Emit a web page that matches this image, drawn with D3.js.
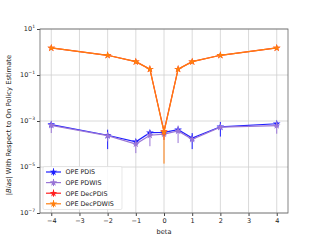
<!DOCTYPE html>
<html lang="en">
<head>
    <meta charset="UTF-8">
    <title>bias vs beta</title>
    <style>
        body{ margin:0; background:#fff; }
        svg text{ font-family:"DejaVu Sans", sans-serif; }
    </style>
</head>
<body>
<div id="main"></div>
<script src="https://d3js.org/d3.v7.min.js"></script>
<script>
    // beta values on the x axis
    const betas=[-4,-2,-1,-0.5,0,0.5,1,2,4]
    const xTicks=[-4,-3,-2,-1,0,1,2,3,4]
    const yTicks=[1e1,1e-1,1e-3,1e-5,1e-7]
    const yTickExp=['1','\u22121','\u22123','\u22125','\u22127']

    // |bias| means and symmetric errors per series
    const pdis    =[7.0e-4,2.4e-4,1.25e-4,3.1e-4,3.2e-4,4.2e-4,1.8e-4,5.6e-4,7.6e-4]
    const pdisErr =[2.0e-4,1.8e-4,3.0e-5,8.0e-5,6.0e-5,1.0e-4,1.2e-4,3.5e-4,1.5e-4]
    const pdwis   =[6.5e-4,2.3e-4,1.0e-4,2.4e-4,2.7e-4,3.7e-4,1.6e-4,5.4e-4,6.3e-4]
    const pdwisErr=[3.5e-4,1.0e-4,6.0e-5,1.6e-4,5.0e-5,2.6e-4,4.0e-5,1.0e-4,3.5e-4]
    const decPdis    =[1.5,0.72,0.38,0.18,3.5e-4,0.18,0.38,0.72,1.5]
    const decPdisErr =[0.02,0.01,0.005,0.003,2.0e-4,0.003,0.005,0.01,0.02]
    const decPdwis   =[1.5,0.72,0.38,0.18,3.3e-4,0.18,0.38,0.72,1.5]
    const decPdwisErr=[0.02,0.01,0.005,0.003,3.16e-4,0.003,0.005,0.01,0.02]

    const series=[
        {name:'OPE PDIS', vals:pdis, err:pdisErr, color:'#1f1fff'},
        {name:'OPE PDWIS', vals:pdwis, err:pdwisErr, color:'#9a75d6'},
        {name:'OPE DecPDIS', vals:decPdis, err:decPdisErr, color:'#ff2020'},
        {name:'OPE DecPDWIS', vals:decPdwis, err:decPdwisErr, color:'#ff7f0e'}
    ]

    const width=320, height=240
    const m={left:40, right:288, top:29, bottom:213}

    const svg=d3.select('#main').append('svg')
        .attr('width',width)
        .attr('height',height)

    const x=d3.scaleLinear().domain([-4.4,4.4]).range([m.left,m.right])
    const y=d3.scaleLog().domain([1e-7,1e1]).range([m.bottom,m.top])

    // grid
    svg.append('g').selectAll('line').data(xTicks).join('line')
        .attr('x1',d=>x(d)).attr('x2',d=>x(d))
        .attr('y1',m.top).attr('y2',m.bottom)
        .attr('stroke','#d0d0d0').attr('stroke-width',0.8)
    svg.append('g').selectAll('line').data(yTicks).join('line')
        .attr('x1',m.left).attr('x2',m.right)
        .attr('y1',d=>y(d)).attr('y2',d=>y(d))
        .attr('stroke','#d0d0d0').attr('stroke-width',0.8)

    // axes
    const xAxis=svg.append('g')
        .attr('transform',`translate(0 ${m.bottom})`)
        .call(d3.axisBottom(x).tickValues(xTicks).tickSize(3).tickPadding(2)
            .tickFormat(d=>d<0?'\u2212'+Math.abs(d):d))
    xAxis.select('.domain').remove()
    xAxis.selectAll('text').style('font-size','6.5px').attr('fill','#222')
    xAxis.selectAll('line').attr('stroke','#444')

    const yAxis=svg.append('g')
        .attr('transform',`translate(${m.left} 0)`)
        .call(d3.axisLeft(y).tickValues(yTicks).tickSize(3).tickFormat(''))
    yAxis.select('.domain').remove()
    yAxis.selectAll('line').attr('stroke','#444')
    const yl=svg.append('g').selectAll('text').data(yTicks).join('text')
        .attr('x',m.left-5).attr('y',d=>y(d)+2.3)
        .attr('text-anchor','end').style('font-size','6.5px').attr('fill','#222')
    yl.append('tspan').text('10')
    yl.append('tspan').attr('dy',-3).style('font-size','4.5px').text((d,i)=>yTickExp[i])

    // frame
    svg.append('rect')
        .attr('x',m.left).attr('y',m.top)
        .attr('width',m.right-m.left).attr('height',m.bottom-m.top)
        .attr('fill','none').attr('stroke','#666').attr('stroke-width',0.8)

    // labels
    svg.append('text').attr('x',(m.left+m.right)/2).attr('y',234)
        .attr('text-anchor','middle').style('font-size','6.6px').attr('fill','#222').text('beta')
    const ylab=svg.append('text')
        .attr('transform',`translate(11 ${(m.top+m.bottom)/2+4}) rotate(-90)`)
        .attr('text-anchor','middle').style('font-size','6.8px').attr('fill','#222')
    ylab.append('tspan').text('|')
    ylab.append('tspan').style('font-style','italic').text('Bias')
    ylab.append('tspan').text('| With Respect to On Policy Estimate')

    const star=d3.symbol().type(d3.symbolStar).size(18)
    const line=d3.line().x(d=>x(d[0])).y(d=>y(d[1]))
    const yLo=3e-8

    series.forEach(s=>{
        const g=svg.append('g')
        const pts=betas.map((b,i)=>[b,s.vals[i],s.err[i]])
        // error bars
        g.selectAll('line').data(pts).join('line')
            .attr('x1',d=>x(d[0])).attr('x2',d=>x(d[0]))
            .attr('y1',d=>y(Math.max(d[1]-d[2],yLo)))
            .attr('y2',d=>y(d[1]+d[2]))
            .attr('stroke',s.color).attr('stroke-width',1)
        g.append('path').datum(pts)
            .attr('d',line).attr('fill','none')
            .attr('stroke',s.color).attr('stroke-width',1.2)
        g.selectAll('path.mk').data(pts).join('path')
            .attr('class','mk')
            .attr('transform',d=>`translate(${x(d[0])} ${y(d[1])})`)
            .attr('d',star).attr('fill',s.color)
    })

    // legend
    const lg=svg.append('g').attr('transform','translate(43 166.5)')
    lg.append('rect').attr('width',79).attr('height',43).attr('rx',1.5)
        .attr('fill','#fff').attr('fill-opacity',0.85)
        .attr('stroke','#d8d8d8').attr('stroke-width',0.6)
    series.forEach((s,i)=>{
        const yy=5.5+i*10.6
        lg.append('line').attr('x1',3).attr('x2',18).attr('y1',yy).attr('y2',yy)
            .attr('stroke',s.color).attr('stroke-width',1.2)
        lg.append('line').attr('x1',10.5).attr('x2',10.5).attr('y1',yy-3.5).attr('y2',yy+3.5)
            .attr('stroke',s.color).attr('stroke-width',1)
        lg.append('path').attr('transform',`translate(10.5 ${yy})`).attr('d',star).attr('fill',s.color)
        lg.append('text').attr('x',22.5).attr('y',yy+2.3)
            .style('font-size','6.4px').attr('fill','#222').text(s.name)
    })
</script>
</body>
</html>
